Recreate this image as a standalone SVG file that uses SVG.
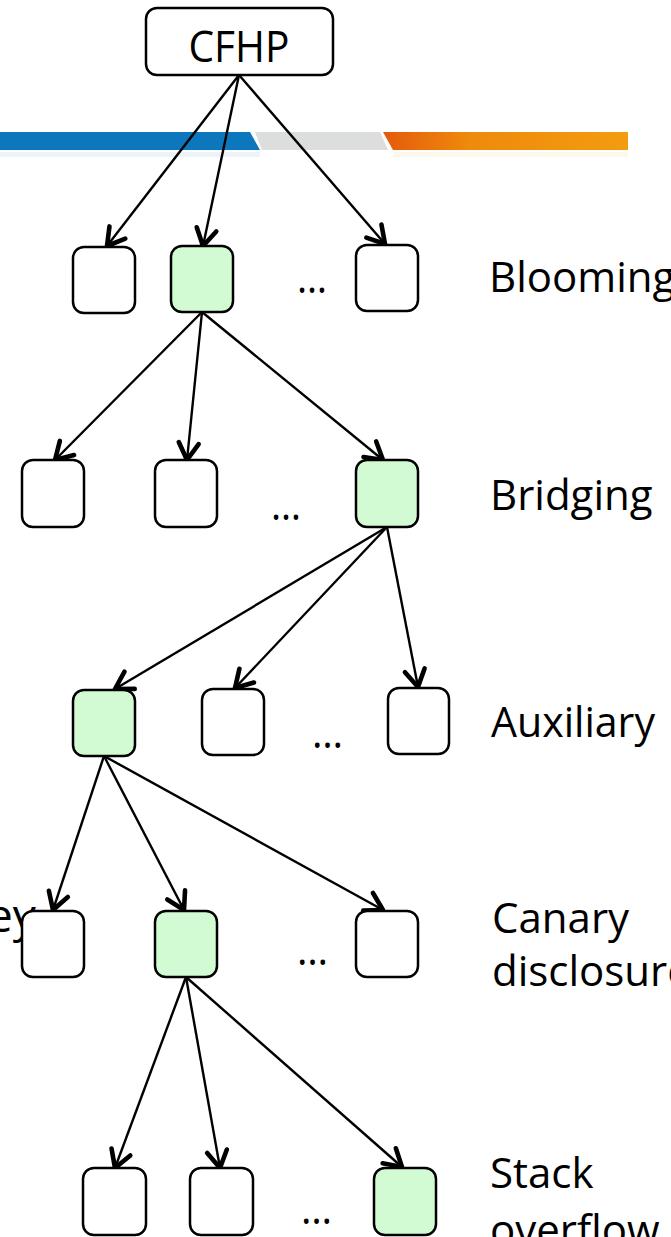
<svg xmlns="http://www.w3.org/2000/svg" width="671" height="1237" viewBox="0 0 671 1237">
  <style>
    .node { fill: #ffffff; stroke: #000000; stroke-width: 2.5; }
    .hit { fill: #d3fbd3; }
    .edge { fill: none; stroke: #000000; stroke-width: 2.4; marker-end: url(#vee); }
    .lbl { font-family: "Open Sans", "Noto Sans", "DejaVu Sans", sans-serif; font-size: 42px; fill: #000000; }
    .dots { font-family: "Open Sans", "Noto Sans", "DejaVu Sans", sans-serif; font-size: 44px; fill: #000000; }
  </style>
  <defs>
    <marker id="vee" markerUnits="userSpaceOnUse" markerWidth="28" markerHeight="28" viewBox="0 0 28 28" refX="22" refY="14" orient="auto">
      <path d="M5,4 L22,14 L5,24" fill="none" stroke="#000000" stroke-width="4.6" stroke-linecap="round" stroke-linejoin="round"/>
    </marker>
    <linearGradient id="orange" x1="0" y1="0" x2="1" y2="0">
      <stop offset="0" stop-color="#e45a0b"/>
      <stop offset="0.35" stop-color="#ee8a0c"/>
      <stop offset="1" stop-color="#f39c0f"/>
    </linearGradient>
  </defs>

  <!-- header stripe -->
  <g id="stripe">
    <polygon points="0,132 250,132 260,150 0,150" fill="#0d77bd"/>
    <polygon points="255,132 380,132 388,150 262,150" fill="#dcdddd"/>
    <polygon points="383,132 628,132 628,150 393,150" fill="url(#orange)"/>
    <rect x="0" y="152" width="260" height="5" fill="#0d77bd" opacity="0.08"/>
    <rect x="393" y="152" width="235" height="5" fill="#f39c0f" opacity="0.08"/>
  </g>

  <!-- stray fragment of a side label, partly hidden by the leftmost node -->
  <text class="lbl" x="-13" y="932" fill="#222222" style="font-size:46px">ey</text>

  <!-- connectors -->
  <g id="edges">
    <line class="edge" x1="239" y1="75" x2="107" y2="246"/>
    <line class="edge" x1="239" y1="75" x2="203" y2="246"/>
    <line class="edge" x1="239" y1="75" x2="385" y2="244"/>

    <line class="edge" x1="202" y1="312" x2="55" y2="460"/>
    <line class="edge" x1="202" y1="312" x2="187" y2="460"/>
    <line class="edge" x1="202" y1="312" x2="383" y2="460"/>

    <line class="edge" x1="387" y1="527" x2="115" y2="689"/>
    <line class="edge" x1="387" y1="527" x2="235" y2="688"/>
    <line class="edge" x1="387" y1="527" x2="418" y2="687"/>

    <line class="edge" x1="104" y1="756" x2="53" y2="910"/>
    <line class="edge" x1="104" y1="756" x2="184" y2="910"/>
    <line class="edge" x1="104" y1="756" x2="383" y2="910"/>

    <line class="edge" x1="186" y1="977" x2="115" y2="1168"/>
    <line class="edge" x1="186" y1="977" x2="220" y2="1168"/>
    <line class="edge" x1="186" y1="977" x2="402" y2="1167"/>
  </g>

  <!-- root -->
  <g id="root">
    <rect class="node" x="146" y="8" width="187" height="67" rx="11"/>
    <text class="lbl" x="239" y="62" text-anchor="middle" textLength="101" lengthAdjust="spacingAndGlyphs" style="font-size:43px">CFHP</text>
  </g>

  <!-- level 1 -->
  <g id="l1-a"><rect class="node" x="73" y="247" width="62" height="66" rx="11"/></g>
  <g id="l1-b"><rect class="node hit" x="171" y="246" width="62" height="66" rx="11"/></g>
  <g id="l1-more"><text class="dots" x="297" y="293" textLength="30" lengthAdjust="spacingAndGlyphs">…</text></g>
  <g id="l1-c"><rect class="node" x="356" y="245" width="62" height="66" rx="11"/></g>
  <g id="l1-label"><text class="lbl" x="489" y="292">Blooming</text></g>

  <!-- level 2 -->
  <g id="l2-a"><rect class="node" x="22" y="460" width="62" height="67" rx="11"/></g>
  <g id="l2-b"><rect class="node" x="155" y="460" width="62" height="67" rx="11"/></g>
  <g id="l2-more"><text class="dots" x="271" y="520" textLength="30" lengthAdjust="spacingAndGlyphs">…</text></g>
  <g id="l2-c"><rect class="node hit" x="356" y="460" width="62" height="67" rx="11"/></g>
  <g id="l2-label"><text class="lbl" x="490" y="510">Bridging</text></g>

  <!-- level 3 -->
  <g id="l3-a"><rect class="node hit" x="73" y="690" width="62" height="66" rx="11"/></g>
  <g id="l3-b"><rect class="node" x="202" y="689" width="62" height="66" rx="11"/></g>
  <g id="l3-more"><text class="dots" x="312" y="748" textLength="31" lengthAdjust="spacingAndGlyphs">…</text></g>
  <g id="l3-c"><rect class="node" x="388" y="688" width="61" height="66" rx="11"/></g>
  <g id="l3-label"><text class="lbl" x="491" y="737" textLength="164" lengthAdjust="spacingAndGlyphs">Auxiliary</text></g>

  <!-- level 4 -->
  <g id="l4-a"><rect class="node" x="22" y="911" width="62" height="66" rx="11"/></g>
  <g id="l4-b"><rect class="node hit" x="155" y="911" width="62" height="66" rx="11"/></g>
  <g id="l4-more"><text class="dots" x="297" y="965" textLength="31" lengthAdjust="spacingAndGlyphs">…</text></g>
  <g id="l4-c"><rect class="node" x="356" y="911" width="62" height="66" rx="11"/></g>
  <g id="l4-label">
    <text class="lbl" x="492" y="933">Canary</text>
    <text class="lbl" x="492" y="986">disclosure</text>
  </g>

  <!-- level 5 -->
  <g id="l5-a"><rect class="node" x="83" y="1168" width="63" height="67" rx="11"/></g>
  <g id="l5-b"><rect class="node" x="190" y="1168" width="63" height="67" rx="11"/></g>
  <g id="l5-more"><text class="dots" x="301" y="1224" textLength="31" lengthAdjust="spacingAndGlyphs">…</text></g>
  <g id="l5-c"><rect class="node hit" x="374" y="1168" width="62" height="67" rx="11"/></g>
  <g id="l5-label">
    <text class="lbl" x="490" y="1188">Stack</text>
    <text class="lbl" x="490" y="1245">overflow</text>
  </g>
</svg>
